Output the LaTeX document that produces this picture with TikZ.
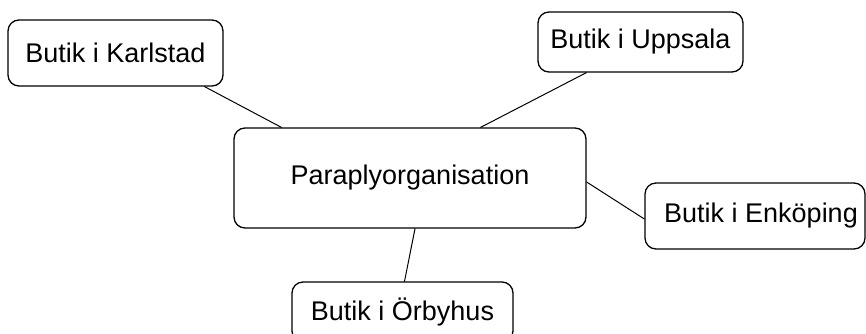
\documentclass[tikz,border=0pt]{standalone}
\usepackage{fontspec}
\setmainfont{Liberation Sans}
\begin{document}
\begin{tikzpicture}[x=1pt,y=-1pt,line cap=round,line join=round,
  butik/.style={draw,rounded corners=11pt,line width=1.3pt,inner sep=0pt,
    font=\fontsize{27}{32}\selectfont}]
  \clip (0,0) rectangle (866,333);
  \useasboundingbox (0,0) rectangle (866,333);
  \node[butik,minimum width=352pt,minimum height=100pt] (para) at (410,178) {Paraplyorganisation};
  \node[butik,minimum width=215pt,minimum height=66pt] (karlstad) at (115.5,53) {Butik i Karlstad};
  \node[butik,minimum width=205pt,minimum height=60pt] (uppsala) at (640.5,42) {Butik i Uppsala};
  \node[butik,minimum width=220pt,minimum height=66pt] (enkoping) at (755,216) {\hspace{12pt}Butik i Enköping};
  \node[butik,minimum width=221pt,minimum height=60pt] (orbyhus) at (402.5,312) {Butik i Örbyhus};
  \draw[line width=1pt] ([xshift=-19pt]karlstad.south east) -- ([xshift=48pt]para.north west);
  \draw[line width=1pt] ([xshift=49pt]uppsala.south west) -- ([xshift=-106pt]para.north east);
  \draw[line width=1pt] ([yshift=-4pt]para.east) -- ([yshift=-3pt]enkoping.west);
  \draw[line width=1pt] ([xshift=5pt]para.south) -- ([xshift=2pt]orbyhus.north);
\end{tikzpicture}
\end{document}
